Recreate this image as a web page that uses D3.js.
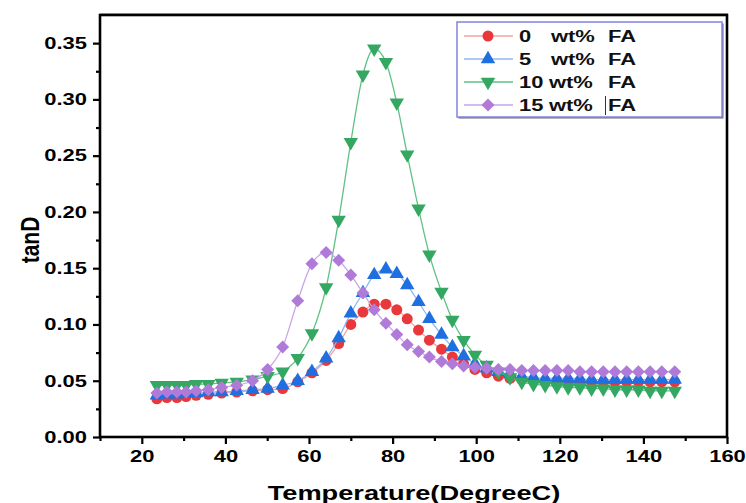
<!DOCTYPE html>
<html>
<head>
<meta charset="utf-8">
<script src="https://cdn.jsdelivr.net/npm/d3@7"></script>
<style>
  html, body { margin: 0; padding: 0; background: #fff; }
  svg { display: block; font-family: "Liberation Sans", Arial, sans-serif; }
</style>
</head>
<body>
<svg id="chart" width="746" height="503"></svg>
<script>
// Temperature (°C) of each measurement
const temps = [23.6, 26.0, 28.4, 30.6, 33.0, 35.9, 39.1, 42.7, 46.5, 50.1,
  53.7, 57.3, 60.7, 64.1, 67.1, 70.0, 72.9, 75.6, 78.4, 81.0,
  83.5, 86.2, 88.8, 91.7, 94.3, 97.0, 99.7, 102.5, 105.3, 108.1,
  110.9, 113.7, 116.5, 119.3, 122.0, 124.8, 127.6, 130.4, 133.2, 136.0,
  138.8, 141.6, 144.4, 147.5];

// tan δ for each FA loading
const fa0 = [0.034, 0.035, 0.035, 0.036, 0.037, 0.038, 0.039, 0.040, 0.041, 0.042,
  0.043, 0.049, 0.057, 0.068, 0.083, 0.100, 0.111, 0.118, 0.118, 0.113,
  0.105, 0.095, 0.086, 0.078, 0.071, 0.065, 0.060, 0.057, 0.054, 0.052,
  0.051, 0.050, 0.050, 0.050, 0.050, 0.049, 0.049, 0.049, 0.049, 0.049,
  0.049, 0.049, 0.049, 0.049];
const fa5 = [0.037, 0.038, 0.038, 0.039, 0.039, 0.040, 0.040, 0.041, 0.042, 0.043,
  0.046, 0.050, 0.058, 0.070, 0.088, 0.110, 0.128, 0.144, 0.149, 0.145,
  0.135, 0.120, 0.105, 0.091, 0.080, 0.072, 0.065, 0.061, 0.058, 0.056,
  0.054, 0.053, 0.052, 0.052, 0.052, 0.052, 0.051, 0.051, 0.051, 0.051,
  0.051, 0.051, 0.051, 0.051];
const fa10 = [0.046, 0.046, 0.046, 0.046, 0.047, 0.047, 0.048, 0.049, 0.051, 0.054,
  0.058, 0.070, 0.092, 0.133, 0.193, 0.262, 0.322, 0.345, 0.333, 0.297,
  0.251, 0.203, 0.162, 0.129, 0.104, 0.086, 0.073, 0.064, 0.058, 0.053,
  0.049, 0.047, 0.046, 0.045, 0.044, 0.044, 0.043, 0.043, 0.042, 0.042,
  0.042, 0.041, 0.041, 0.041];
const fa15 = [0.039, 0.040, 0.040, 0.040, 0.041, 0.042, 0.044, 0.046, 0.050, 0.060,
  0.080, 0.121, 0.154, 0.164, 0.157, 0.144, 0.128, 0.113, 0.101, 0.091,
  0.082, 0.076, 0.071, 0.067, 0.065, 0.063, 0.062, 0.061, 0.060, 0.060,
  0.059, 0.059, 0.059, 0.059, 0.059, 0.058, 0.058, 0.058, 0.058, 0.058,
  0.058, 0.058, 0.058, 0.058];

const seriesNames = ["0", "5", "10", "15"];
const xTicks = [20, 40, 60, 80, 100, 120, 140, 160];
const yTicks = [0.00, 0.05, 0.10, 0.15, 0.20, 0.25, 0.30, 0.35];

const series = [
  { name: seriesNames[0], values: fa0,  line: "#f5a3a3", fill: "#e8383c", shape: "circle" },
  { name: seriesNames[1], values: fa5,  line: "#8fb8ee", fill: "#1f6fe0", shape: "up" },
  { name: seriesNames[2], values: fa10, line: "#5fc184", fill: "#34a862", shape: "down" },
  { name: seriesNames[3], values: fa15, line: "#c9a5ea", fill: "#b07ad8", shape: "diamond" }
];

// all text is drawn a little wide
const SX = 1.33;

const svg = d3.select("#chart");
const m = { left: 100, top: 15, right: 727, bottom: 437 };

const x = d3.scaleLinear().domain([10, 160]).range([m.left, m.right]);
const y = d3.scaleLinear().domain([0, 0.375]).range([m.bottom, m.top]);

function symbolPath(shape) {
  if (shape === "circle") return d3.symbol(d3.symbolCircle, 95)();
  if (shape === "diamond") return d3.symbol(d3.symbolSquare, 84)();
  return d3.symbol(d3.symbolTriangle, 90)();
}
function symbolRotate(shape) {
  if (shape === "down") return 180;
  if (shape === "diamond") return 45;
  return 0;
}

// Axes with major and minor ticks
const fmtY = d3.format(".2f");
const yAxis = d3.axisLeft(y).tickValues(yTicks).tickFormat(fmtY).tickSize(7).tickPadding(5);
const yMinor = d3.axisLeft(y).tickValues(d3.range(0.025, 0.375, 0.05)).tickFormat("").tickSize(4);
const xAxis = d3.axisBottom(x).tickValues(xTicks).tickFormat(d3.format("d")).tickSize(7).tickPadding(6);
const xMinor = d3.axisBottom(x).tickValues(d3.range(10, 160, 20)).tickFormat("").tickSize(4);

function styleAxis(g) {
  g.select(".domain").remove();
  g.selectAll(".tick line").attr("stroke", "#000").attr("stroke-width", 2.2);
  g.selectAll(".tick text")
    .attr("fill", "#000")
    .style("font-size", "16.5px")
    .style("font-weight", "bold");
}

const gy = svg.append("g").attr("transform", `translate(${m.left},0)`).call(yAxis).call(styleAxis);
gy.selectAll(".tick text").attr("x", -13 / SX).attr("transform", `scale(${SX},1)`);
svg.append("g").attr("transform", `translate(${m.left},0)`).call(yMinor).call(styleAxis);
const gx = svg.append("g").attr("transform", `translate(0,${m.bottom})`).call(xAxis).call(styleAxis);
gx.selectAll(".tick text").attr("transform", `scale(${SX},1)`);
svg.append("g").attr("transform", `translate(0,${m.bottom})`).call(xMinor).call(styleAxis);

// Frame
svg.append("line").attr("x1", m.left).attr("x2", m.right + 1).attr("y1", m.top - 1.5).attr("y2", m.top - 1.5)
  .attr("stroke", "#bbb").attr("stroke-width", 1);
svg.append("rect")
  .attr("x", m.left).attr("y", m.top)
  .attr("width", m.right - m.left).attr("height", m.bottom - m.top)
  .attr("fill", "none").attr("stroke", "#000").attr("stroke-width", 2.6);

// Series: line then markers
const lineGen = d3.line().x((d, i) => x(temps[i])).y(d => y(d)).curve(d3.curveMonotoneX);

series.forEach(s => {
  const g = svg.append("g");
  g.append("path").datum(s.values)
    .attr("d", lineGen)
    .attr("fill", "none").attr("stroke", s.line).attr("stroke-width", 1.3);
  g.selectAll("path.mk").data(s.values).enter().append("path")
    .attr("class", "mk")
    .attr("d", symbolPath(s.shape))
    .attr("transform", (d, i) => `translate(${x(temps[i])},${y(d)}) rotate(${symbolRotate(s.shape)})`)
    .attr("fill", s.fill);
});

// Legend
const lg = svg.append("g");
const lx = 457, ly = 22, lw = 265, lh = 95;
lg.append("rect").attr("x", lx + 1.5).attr("y", ly + 1.5).attr("width", lw).attr("height", lh)
  .attr("fill", "#666");
lg.append("rect").attr("x", lx).attr("y", ly).attr("width", lw).attr("height", lh)
  .attr("fill", "#fff").attr("stroke", "#8a8ae6").attr("stroke-width", 1.6);

function wideText(parent, tx, ty, str) {
  return parent.append("text")
    .attr("transform", `translate(${tx},${ty}) scale(${SX},1)`)
    .text(str);
}

const rowY = [36, 59, 82, 105];
const wtX = [551, 551, 549, 549];
series.forEach((s, i) => {
  const cy = rowY[i];
  lg.append("line").attr("x1", 464).attr("x2", 513).attr("y1", cy).attr("y2", cy)
    .attr("stroke", s.line).attr("stroke-width", 1.5);
  lg.append("path").attr("d", symbolPath(s.shape))
    .attr("transform", `translate(488,${cy}) rotate(${symbolRotate(s.shape)})`)
    .attr("fill", s.fill);
  const t = lg.append("g").style("font-size", "16.5px").style("font-weight", "bold").attr("fill", "#111");
  wideText(t, 519, cy + 6, s.name);
  wideText(t, wtX[i], cy + 6, "wt%");
  wideText(t, 608, cy + 6, "FA");
});
// thin cursor bar in the last legend row
lg.append("line").attr("x1", 605.5).attr("x2", 605.5).attr("y1", 96).attr("y2", 115)
  .attr("stroke", "#333").attr("stroke-width", 1);

// Axis titles
svg.append("text")
  .attr("transform", `translate(414,500) scale(1.36,1)`)
  .attr("text-anchor", "middle")
  .style("font-size", "20px").style("font-weight", "bold")
  .text("Temperature(DegreeC)");
svg.append("text")
  .attr("transform", "translate(39,240) rotate(-90) scale(1,1.2)")
  .attr("text-anchor", "middle")
  .style("font-size", "21px").style("font-weight", "600")
  .text("tanD");
</script>
</body>
</html>
